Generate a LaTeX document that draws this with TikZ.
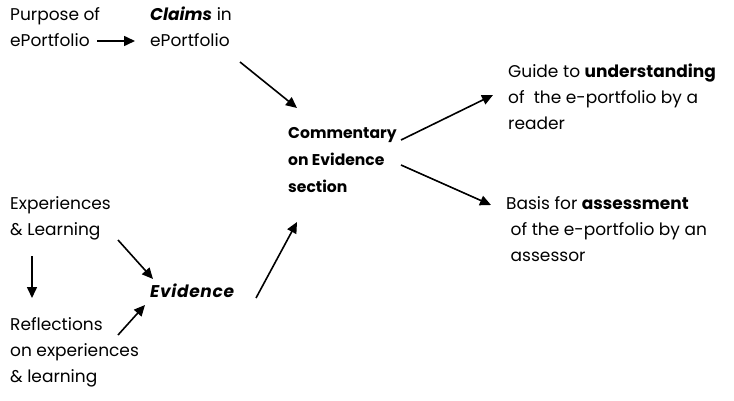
\documentclass[tikz,border=0pt]{standalone}
\usepackage{fontspec}
\setmainfont{Poppins}
\usetikzlibrary{arrows.meta,calc}

\tikzset{
  txt/.style={anchor=west, inner sep=0pt, align=left, font=\fontsize{17}{26}\selectfont},
  arr/.style={line width=1.6pt, -{Triangle[length=11pt,width=10pt]}}
}

\begin{document}
\begin{tikzpicture}[x=1pt,y=-1pt]
  \useasboundingbox (0,0) rectangle (734,401);
  % left column
  \node[txt] (purpose) at (10,27) {Purpose of\\ePortfolio};
  \node[txt] (claims) at (150,27) {\textbf{\textit{Claims}} in\\ePortfolio};
  \node[txt] (exper) at (10,218) {Experiences\\\& Learning};
  \node[txt] (reflect) at (10,352) {Reflections\\on experiences\\\& learning};
  \node[txt, font=\fontsize{17}{26}\selectfont\addfontfeature{LetterSpace=4}] (evid) at (150,291) {\textbf{\textit{Evidence}}};
  % middle
  \node[txt, font=\fontsize{15.6}{27}\selectfont\bfseries] (comment) at (288,160) {Commentary\\on Evidence\\section};
  % right
  \node[txt] (guide) at (508,97) {Guide to \textbf{understanding}\\of\ \ the e-portfolio by a\\reader};
  \node[txt] (basis) at (506,229) {Basis for \textbf{assessment}\\\ of the e-portfolio by an\\\ assessor};

  % arrows
  \draw[arr] ($(purpose.west)+(87,14)$) -- ($(claims.west)+(-15,14)$);
  \draw[arr] ($(claims.west)+(90,35)$) -- ($(comment.west)+(9,-52)$);
  \draw[arr] ($(comment.west)+(113,-20)$) -- ($(guide.west)+(-15,-2)$);
  \draw[arr] ($(comment.west)+(113,5)$) -- ($(basis.west)+(-15,-24)$);
  \draw[arr] ($(exper.west)+(22,38)$) -- ($(reflect.west)+(22,-54)$);
  \draw[arr] ($(exper.west)+(108,22)$) -- ($(evid.west)+(3,-12)$);
  \draw[arr] ($(reflect.west)+(108,-17)$) -- ($(evid.west)+(-5,14)$);
  \draw[arr] ($(evid.west)+(106,7)$) -- ($(comment.west)+(9,62)$);
\end{tikzpicture}
\end{document}
